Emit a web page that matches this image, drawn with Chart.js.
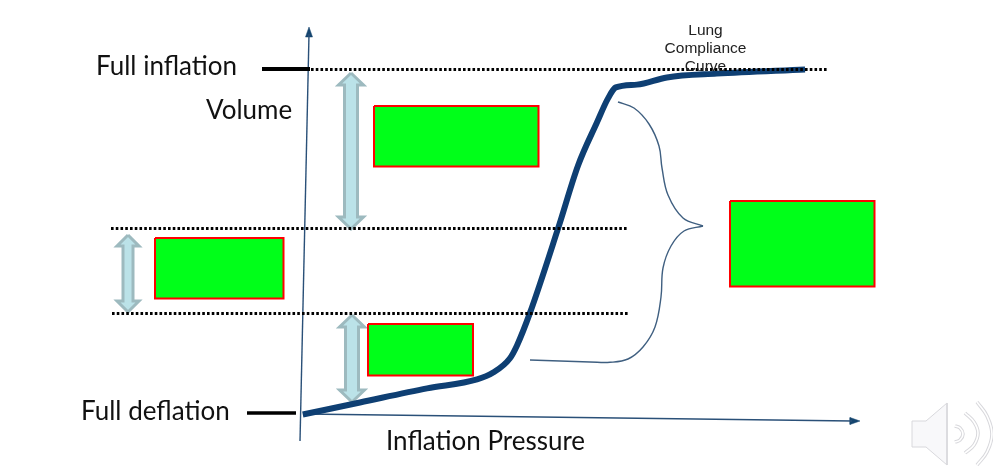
<!DOCTYPE html>
<html>
<head>
<meta charset="utf-8">
<script src="https://cdn.jsdelivr.net/npm/chart.js@4"></script>
<style>html,body{margin:0;padding:0;background:#fff}#w{width:993px;height:475px}canvas{display:block}</style>
</head>
<body>
<div id="w"><canvas id="c" width="993" height="475"></canvas></div>
<script>
// Lung compliance curve, in percent of axis length
const pressure = [-0.4, 9.9, 22.0, 31.0, 33.9, 36.9, 38.2, 40.5, 45.6, 49.2, 52.6, 54.6, 56.0, 59.8, 65.2, 74.2, 90.1];
const volume   = [-0.3, 3.2, 7.3, 9.9, 11.9, 16.0, 19.8, 29.1, 53.8, 72.1, 84.6, 91.6, 94.8, 95.6, 97.7, 98.8, 100];

// Horizontal reference levels (volume)
const fullInflationLevel = 100;
const upperMarkLevel = 53.8;
const lowerMarkLevel = 29.1;

// Text labels
const labelFullInflation = "Full inflation";
const labelFullDeflation = "Full deflation";
const labelVolume = "Volume";
const labelXAxis = "Inflation Pressure";
const labelCurve = ["Lung", "Compliance", "Curve"];

// Scale geometry
const W = 993, H = 475;
const x0 = 305, xPerUnit = 5.55, y0 = 413.5, yPerUnit = 3.44;

// Annotation layer in page units
const pt = (x, y) => ({x, y});
const line = (pts, color, width, extra) => Object.assign({
  data: pts, xAxisID: 'px', yAxisID: 'py', borderColor: color, borderWidth: width,
  pointRadius: 0, fill: false, tension: 0, borderCapStyle: 'butt'
}, extra || {});
const poly = (coords, fillC, strokeC, width) => line(
  coords.concat([coords[0]]).map(c => pt(c[0], c[1])), strokeC, width,
  {fill: 'shape', backgroundColor: fillC, borderJoinStyle: 'miter'});
const rect = (x1, y1, x2, y2) => poly([[x1,y1],[x2,y1],[x2,y2],[x1,y2]], '#00ff19', '#ff0000', 2);
const dbl = (x, t, b, sw, hw, hh) => poly([
  [x,t],[x+hw,t+hh],[x+sw,t+hh],[x+sw,b-hh],[x+hw,b-hh],[x,b],[x-hw,b-hh],[x-sw,b-hh],[x-sw,t+hh],[x-hw,t+hh]
], '#bbe2e8', '#9dbabf', 3);

const axisColor = '#2a5078', curveColor = '#0e3f73', braceColor = '#3f5f80';
const level = (xa, xb, v) => ({
  data: [{x:(xa-x0)/xPerUnit, y:v},{x:(xb-x0)/xPerUnit, y:v}], borderColor:'#000', borderWidth:3,
  borderDash:[2.6,2.15], pointRadius:0, fill:false, tension:0
});
const arc = pts => [
  line(pts.map(c=>pt(c[0],c[1])), '#ffffff', 1.6, {tension:0.4}),
  line(pts.map(c=>pt(c[0],c[1])), '#d8d8dc', 3.6, {tension:0.4})
];

const datasets = [
  level(311, 828, fullInflationLevel),
  level(111, 627, upperMarkLevel),
  level(112, 628, lowerMarkLevel),
  line([pt(262,69),pt(310,69)], '#000', 4),
  line([pt(247,413),pt(296,413)], '#000', 3.5),
  {data: pressure.map((p,i)=>({x:p,y:volume[i]})), borderColor:curveColor, borderWidth:6, pointRadius:0, fill:false, cubicInterpolationMode:'monotone', borderCapStyle:'butt', borderJoinStyle:'round'},
  line([pt(300,441),pt(309,34)], axisColor, 1.4),
  poly([[309,27],[312.5,37],[305.5,37]], '#15456f', '#15456f', 0.5),
  line([pt(305,414),pt(852,421)], axisColor, 1.4),
  poly([[860,421],[850,417.5],[850,424.5]], '#15456f', '#15456f', 0.5),
  rect(374,106,538.5,166.5),
  rect(155,238,283.5,298.5),
  rect(368,324,473,375.5),
  rect(730,201,874.5,286.5),
  dbl(351,73,229,6.5,12.5,12),
  dbl(128,235,312,5,11,11),
  dbl(352,315,402,6.5,12.5,12),
  line([pt(618,102),pt(634,108),pt(649,124),pt(659,146),pt(662,168),pt(668,195),pt(683,218),pt(703,226)], braceColor, 1.4, {tension:0.38}),
  line([pt(703,226),pt(684,231),pt(671,246),pt(663,268),pt(661,297),pt(655,327),pt(643,347),pt(628,359),pt(610,362.3),pt(590,362)], braceColor, 1.4, {tension:0.38}),
  line([pt(590,362),pt(530,360)], braceColor, 1.4),
  poly([[912,421],[926,421],[947,403],[947,465],[926,447],[912,447]], '#f8f8fa', '#d8d8dc', 1),
  ...arc([[955,426],[960,428],[963,434],[960,440],[955,442]]),
  ...arc([[965,413],[974,422],[978,433],[974,445],[965,453]]),
  ...arc([[977,402],[987,416],[992,434],[987,452],[977,465]])
];

const textLayer = {
  id: 'textLayer',
  afterDraw(chart) {
    const ctx = chart.ctx, sx = chart.scales.px, sy = chart.scales.py;
    const put = (s, x, y, font, color, align) => {
      ctx.font = font; ctx.fillStyle = color; ctx.textAlign = align; ctx.textBaseline = 'middle';
      ctx.fillText(s, sx.getPixelForValue(x), sy.getPixelForValue(y));
    };
    ctx.save();
    const f = '26px Lato, sans-serif';
    put(labelFullInflation, 96, 67, f, '#111', 'left');
    put(labelVolume, 206, 111, f, '#111', 'left');
    put(labelFullDeflation, 81, 412, f, '#111', 'left');
    put(labelXAxis, 386, 442, f, '#111', 'left');
    const g = '15.5px "Liberation Sans", Arial, sans-serif';
    labelCurve.forEach((s, i) => put(s, 705.5, 30.5 + i * 18, g, '#222', 'center'));
    ctx.restore();
  }
};

new Chart(document.getElementById('c'), {
  type: 'line',
  data: { datasets },
  plugins: [textLayer],
  options: {
    responsive: false,
    animation: false,
    layout: { padding: 0 },
    plugins: { legend: {display:false}, tooltip: {enabled:false} },
    events: [],
    scales: {
      x: { type:'linear', display:false, min:(0-x0)/xPerUnit, max:(W-x0)/xPerUnit },
      y: { type:'linear', display:false, min:(y0-H)/yPerUnit, max:y0/yPerUnit },
      px: { type:'linear', display:false, axis:'x', min:0, max:W },
      py: { type:'linear', display:false, axis:'y', min:0, max:H, reverse:true }
    }
  }
});
</script>
</body>
</html>
